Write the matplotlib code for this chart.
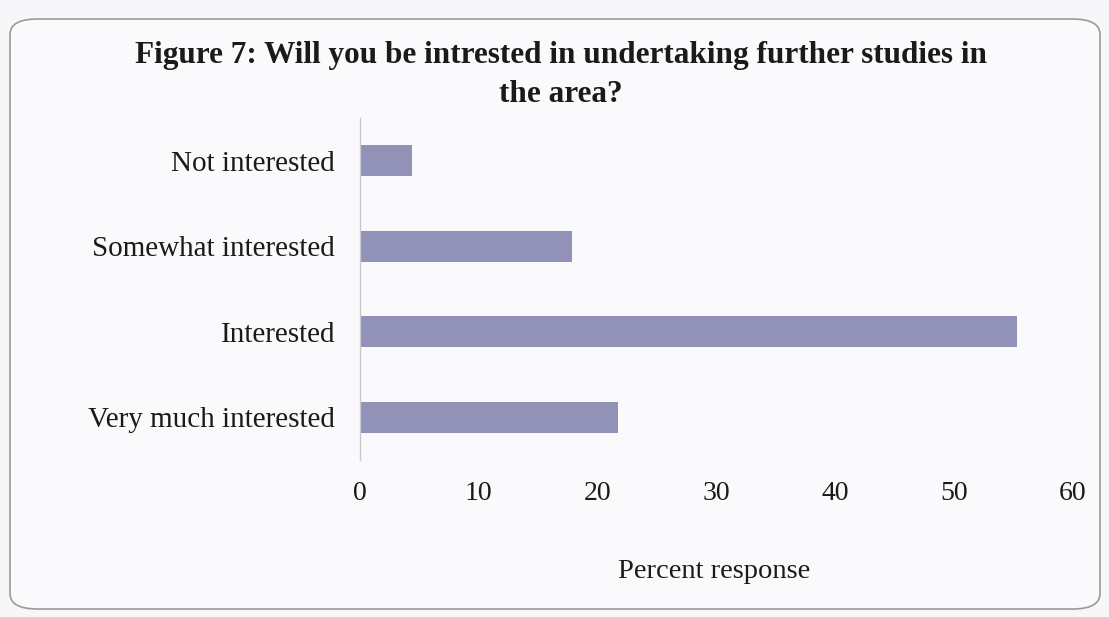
import matplotlib
matplotlib.use("Agg")
import matplotlib.pyplot as plt
from matplotlib.patches import FancyBboxPatch

categories = ["Not interested", "Somewhat interested", "Interested", "Very much interested"]
values = [4.4, 17.8, 55.3, 21.7]
xticks = [0, 10, 20, 30, 40, 50, 60]

plt.rcParams['font.family'] = ['Liberation Serif', 'DejaVu Serif']

W, H = 1109, 617
fig = plt.figure(figsize=(W/100, H/100), dpi=100)
fig.patch.set_facecolor('#f7f7f9')

# rounded frame
frame = FancyBboxPatch((10/W, 8/H), 1090/W, 590/H,
                       boxstyle="round,pad=0,rounding_size=0.025",
                       transform=fig.transFigure, facecolor='#fafafc',
                       edgecolor='#9a9a9a', linewidth=1.2, zorder=-10)
fig.patches.append(frame)

ax = fig.add_axes([360/W, 1-460/H, (1073-360)/W, (460-118)/H])
ax.set_zorder(5)
ax.set_facecolor('none')
ypos = list(range(len(categories)))
ax.barh(ypos, values, height=0.36, color='#9292b8', edgecolor='none')
ax.set_ylim(len(categories)-0.5, -0.5)
ax.set_xlim(0, 60)
ax.set_yticks(ypos)
ax.set_yticklabels(categories, fontsize=21, color='#1a1a1a')
ax.set_xticks(xticks)
ax.set_xticklabels([str(t) for t in xticks], fontsize=20, color='#1a1a1a')
ax.tick_params(axis='both', length=0)
ax.tick_params(axis='y', pad=18)
ax.tick_params(axis='x', pad=15)
for s in ['top', 'right', 'bottom']:
    ax.spines[s].set_visible(False)
ax.spines['left'].set_color('#c8c8cc')
ax.spines['left'].set_linewidth(1.0)

fig.text(561/W, 1-55/H, "Figure 7: Will you be intrested in undertaking further studies in",
         ha='center', va='center', fontsize=22.5, fontweight='bold', color='#1a1a1a')
fig.text(561/W, 1-94/H, "the area?", ha='center', va='center', fontsize=22.5,
         fontweight='bold', color='#1a1a1a')
fig.text(714/W, 1-572/H, "Percent response", ha='center', va='center',
         fontsize=20.5, color='#1a1a1a')

fig.savefig("out.png", dpi=100, facecolor=fig.get_facecolor())
